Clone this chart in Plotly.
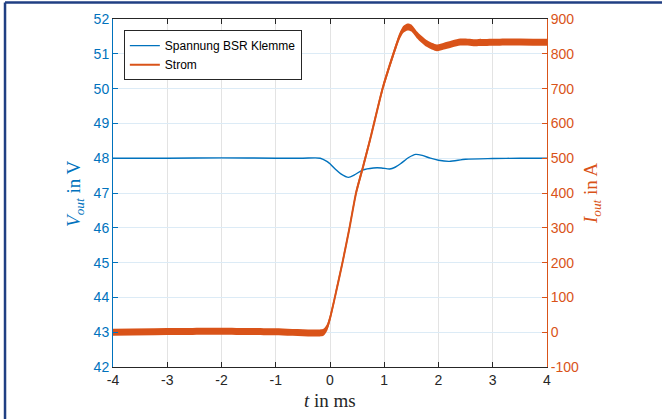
import plotly.graph_objects as go

# ---- data ----
t_volt = [-4, -3, -2, -1, -0.5, -0.18, -0.05, 0, 0.1, 0.2, 0.34, 0.45, 0.6, 0.8,
          0.95, 1.1, 1.2, 1.3, 1.45, 1.58, 1.7, 1.85, 2.0, 2.2, 2.5, 3.0, 3.5, 4.0]
volt = [48.0, 48.0, 48.01, 48.0, 48.0, 48.0, 47.9, 47.84, 47.68, 47.55, 47.45, 47.52,
        47.66, 47.72, 47.72, 47.69, 47.74, 47.84, 48.02, 48.11, 48.08, 48.0, 47.94,
        47.91, 47.97, 47.99, 48.0, 48.0]

t_cur = [-4, -3, -2, -1, -0.12, -0.05, 0, 0.09, 0.23, 0.36, 0.48, 0.6, 0.75, 0.97,
         1.17, 1.28, 1.35, 1.43, 1.5, 1.6, 1.78, 1.97, 2.1, 2.4, 2.7, 3.0, 3.5, 4.0]
cur = [0, 2, 3, 1, 0, 15, 40, 100, 200, 300, 400, 470, 560, 700,
       800, 850, 870, 877, 874, 855, 830, 817, 822, 834, 832, 833, 834, 833]
cur_noise = 10  # half-width of the noise band seen on the current trace (A)

x_ticks = [-4, -3, -2, -1, 0, 1, 2, 3, 4]
x_tick_text = ["-4", "-3", "-2", "-1", "0", "1", "2", "3", "4"]
yl_ticks = [42, 43, 44, 45, 46, 47, 48, 49, 50, 51, 52]
yr_ticks = [-100, 0, 100, 200, 300, 400, 500, 600, 700, 800, 900]
yr_tick_text = ["-100", "0", "100", "200", "300", "400", "500", "600", "700", "800", "900"]

names = ["Spannung BSR Klemme", "Strom"]

BLUE = "#0072BD"
ORANGE = "#D95319"
DARK = "#262626"

fig = go.Figure()

fig.add_trace(go.Scatter(x=t_volt, y=volt, mode="lines", name=names[0],
                         line=dict(color=BLUE, width=1.4, shape="spline", smoothing=0.7)))

# noise band of the current
fig.add_trace(go.Scatter(x=t_cur, y=[c - cur_noise for c in cur], yaxis="y2", mode="lines",
                         line=dict(width=0, color=ORANGE, shape="spline", smoothing=0.6),
                         showlegend=False, hoverinfo="skip"))
fig.add_trace(go.Scatter(x=t_cur, y=[c + cur_noise for c in cur], yaxis="y2", mode="lines",
                         line=dict(width=0, color=ORANGE, shape="spline", smoothing=0.6),
                         fill="tonexty", fillcolor=ORANGE,
                         showlegend=False, hoverinfo="skip"))
fig.add_trace(go.Scatter(x=t_cur, y=cur, yaxis="y2", mode="lines", name=names[1],
                         line=dict(color=ORANGE, width=2, shape="spline", smoothing=0.6)))

tick_font = dict(family="Liberation Sans, Arial, sans-serif", size=14)

fig.update_layout(
    width=662, height=419,
    margin=dict(l=113, r=115, t=19, b=52),
    paper_bgcolor="white", plot_bgcolor="white",
    showlegend=True,
    legend=dict(x=0.025, y=0.968, xanchor="left", yanchor="top",
                traceorder="normal",
                bgcolor="white", bordercolor=DARK, borderwidth=1,
                font=dict(family="Liberation Sans, Arial, sans-serif", size=12, color="black"),
                tracegroupgap=0),
    xaxis=dict(range=[-4, 4], tickvals=x_ticks, ticktext=x_tick_text,
               ticks="inside", ticklen=5, tickcolor=DARK,
               showline=True, linecolor=DARK, linewidth=1, mirror="ticks",
               showgrid=True, gridcolor="#e3e3e3", gridwidth=1, zeroline=False,
               tickfont=dict(color=DARK, **tick_font)),
    yaxis=dict(range=[42, 52], tickvals=yl_ticks,
               ticks="inside", ticklen=5, tickcolor=BLUE,
               showline=True, linecolor=BLUE, linewidth=1,
               showgrid=True, gridcolor="#dcebf6", gridwidth=1, zeroline=False,
               tickfont=dict(color=BLUE, **tick_font)),
    yaxis2=dict(range=[-100, 900], tickvals=yr_ticks, ticktext=yr_tick_text,
                overlaying="y", side="right",
                ticks="inside", ticklen=5, tickcolor=ORANGE,
                showline=True, linecolor=ORANGE, linewidth=1,
                showgrid=False, zeroline=False,
                tickfont=dict(color=ORANGE, **tick_font)),
)

serif = "Liberation Serif, Times New Roman, serif"
fig.add_annotation(text="<i>t</i> in ms", xref="paper", yref="paper",
                   x=0.5, y=-0.095, xanchor="center", yanchor="middle", showarrow=False,
                   font=dict(family=serif, size=19, color=DARK))
fig.add_annotation(text="<i>V</i><sub><i>out</i></sub> in V", xref="paper", yref="paper",
                   x=-0.0876, y=0.5, textangle=-90, xanchor="center", yanchor="middle",
                   showarrow=False, font=dict(family=serif, size=19, color=BLUE))
fig.add_annotation(text="<i>I</i><sub><i>out</i></sub> in A", xref="paper", yref="paper",
                   x=1.1037, y=0.5, textangle=-90, xanchor="center", yanchor="middle",
                   showarrow=False, font=dict(family=serif, size=19, color=ORANGE))

# frame lines of the figure (left and top)
FRAME = "#203f83"
fig.add_shape(type="line", xref="paper", yref="paper", x0=-0.2488, x1=-0.2488, y0=-0.3, y1=1.0474,
              line=dict(color=FRAME, width=2.5))
fig.add_shape(type="line", xref="paper", yref="paper", x0=-0.2488, x1=1.4, y0=1.0474, y1=1.0474,
              line=dict(color=FRAME, width=2.5))

fig.write_html("out.html", config={"displayModeBar": False},
               post_script="document.body.style.margin='0';document.body.style.overflow='hidden';")
